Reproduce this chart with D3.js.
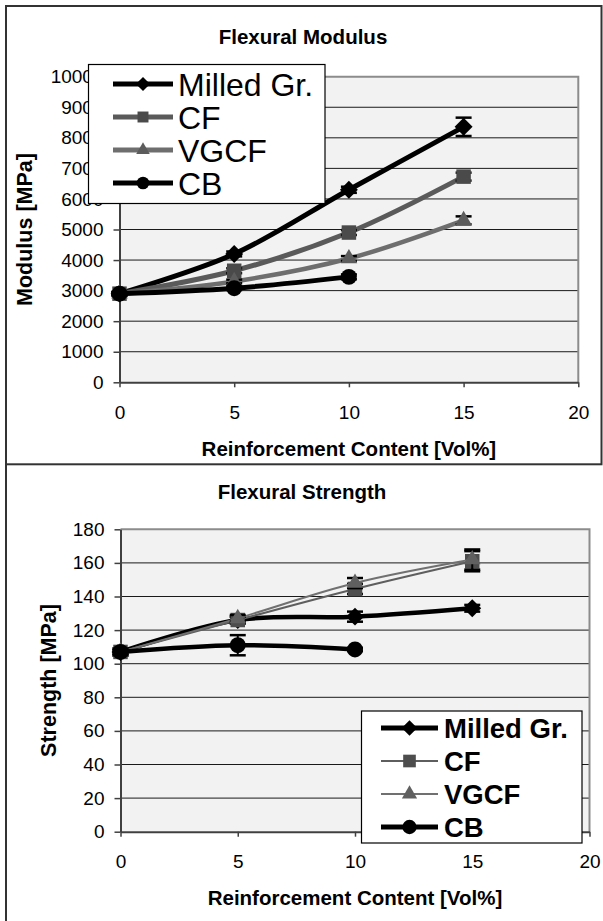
<!doctype html>
<html lang="en">
<head>
<meta charset="utf-8">
<title>Flexural Modulus and Strength</title>
<script src="https://cdn.jsdelivr.net/npm/d3@7"></script>
<style>
  body { margin: 0; background: #fff; }
  svg { display: block; font-family: Arial, "Liberation Sans", sans-serif; }
</style>
</head>
<body>
<script>
// reinforcement content [vol%]
var content = [0, 5, 10, 15];
var xTicks = [0, 5, 10, 15, 20];
var seriesNames = ["Milled Gr.", "CF", "VGCF", "CB"];

// flexural modulus [MPa]
var modTicks = [0, 1000, 2000, 3000, 4000, 5000, 6000, 7000, 8000, 9000, 10000];
var modMilled = [2900, 4200, 6300, 8360];
var modCF = [2900, 3650, 4900, 6730];
var modVGCF = [2900, 3300, 4050, 5300];
var modCB = [2900, 3080, 3450];
var modMilledErr = [60, 80, 100, 300];
var modCFErr = [50, 80, 80, 130];
var modVGCFErr = [50, 60, 80, 130];
var modCBErr = [50, 60, 80];

// flexural strength [MPa]
var strTicks = [0, 20, 40, 60, 80, 100, 120, 140, 160, 180];
var strMilled = [107, 126, 128, 133];
var strCF = [107, 126, 144.5, 161];
var strVGCF = [107, 127, 148, 162];
var strCB = [107, 111, 108.5];
var strMilledErr = [2, 2, 3, 2];
var strCFErr = [1, 2, 3, 6];
var strVGCFErr = [1, 2, 3, 6];
var strCBErr = [2, 6, 1];

var svg = d3.select("body").append("svg").attr("width", 603).attr("height", 921);

// outer frames
svg.append("rect").attr("x", 6).attr("y", 6).attr("width", 595.5).attr("height", 458.3)
    .attr("fill", "none").attr("stroke", "#333").attr("stroke-width", 2);
svg.append("line").attr("x1", 6).attr("x2", 6).attr("y1", 464).attr("y2", 921)
    .attr("stroke", "#333").attr("stroke-width", 2);

function markerPath(type, size) {
    if (type == "diamond") return d3.symbol().type(d3.symbolSquare).size(size)();
    if (type == "square") return d3.symbol().type(d3.symbolSquare).size(size)();
    if (type == "triangle") return d3.symbol().type(d3.symbolTriangle).size(size)();
    return d3.symbol().type(d3.symbolCircle).size(size)();
}
function markerRot(type) { return type == "diamond" ? " rotate(45)" : ""; }

function drawChart(cfg) {
    var x = d3.scaleLinear().domain([0, 20]).range([cfg.left, cfg.right]);
    var y = d3.scaleLinear().domain([0, cfg.yMax]).range([cfg.bottom, cfg.top]);
    var g = svg.append("g");

    g.append("rect").attr("x", cfg.left).attr("y", cfg.top)
        .attr("width", cfg.right - cfg.left).attr("height", cfg.bottom - cfg.top)
        .attr("fill", "#f2f2f2");

    g.append("g").selectAll("line")
        .data(cfg.yTicks.filter(function(v){ return v > 0 && v < cfg.yMax; }))
        .join("line")
        .attr("x1", cfg.left).attr("x2", cfg.right)
        .attr("y1", function(d){ return y(d); }).attr("y2", function(d){ return y(d); })
        .attr("stroke", "#1a1a1a").attr("stroke-width", 1);

    g.append("path")
        .attr("d", "M" + cfg.left + "," + cfg.top + "H" + cfg.right + "V" + cfg.bottom)
        .attr("fill", "none").attr("stroke", "#8c8c8c").attr("stroke-width", 2);

    var ya = g.append("g").attr("transform", "translate(" + cfg.left + ",0)")
        .call(d3.axisLeft(y).tickValues(cfg.yTicks).tickFormat(d3.format("d"))
            .tickSize(6).tickPadding(10).tickSizeOuter(0));
    var xa = g.append("g").attr("transform", "translate(0," + cfg.bottom + ")")
        .call(d3.axisBottom(x).tickValues(xTicks).tickFormat(d3.format("d"))
            .tickSize(5).tickPadding(18).tickSizeOuter(0));
    [ya, xa].forEach(function(a){
        a.attr("font-family", null).attr("font-size", null);
        a.select(".domain").attr("stroke", "#404040").attr("stroke-width", 2);
        a.selectAll(".tick line").attr("stroke", "#404040").attr("stroke-width", 1.5);
        a.selectAll(".tick text").attr("font-size", 19).attr("fill", "#000");
    });

    // titles
    g.append("text").attr("x", cfg.titleX).attr("y", cfg.titleY)
        .attr("text-anchor", "middle").attr("font-size", 20.5).attr("font-weight", "bold")
        .text(cfg.title);
    g.append("text").attr("x", (cfg.left + cfg.right) / 2).attr("y", cfg.xTitleY)
        .attr("text-anchor", "middle").attr("font-size", 20.5).attr("font-weight", "bold")
        .text("Reinforcement Content [Vol%]");
    g.append("text")
        .attr("transform", "translate(" + cfg.yTitleX + "," + (cfg.top + cfg.bottom) / 2 + ") rotate(-90)")
        .attr("text-anchor", "middle").attr("font-size", 21.5).attr("font-weight", "bold")
        .text(cfg.yTitle);

    var line = d3.line()
        .x(function(d){ return x(d[0]); })
        .y(function(d){ return y(d[1]); })
        .curve(d3.curveCatmullRom.alpha(0.5));

    cfg.series.forEach(function(s){
        var pts = s.values.map(function(v, i){ return [content[i], v, s.errs[i]]; });
        var sg = g.append("g");
        sg.append("path").attr("d", line(pts)).attr("fill", "none")
            .attr("stroke", s.color).attr("stroke-width", s.width)
            .attr("stroke-linejoin", "round");
        var eb = sg.append("g").selectAll("g").data(pts).join("g");
        eb.append("line")
            .attr("x1", function(d){ return x(d[0]); }).attr("x2", function(d){ return x(d[0]); })
            .attr("y1", function(d){ return y(d[1] - d[2]); }).attr("y2", function(d){ return y(d[1] + d[2]); })
            .attr("stroke", "#000").attr("stroke-width", 2);
        [-1, 1].forEach(function(sign){
            eb.append("line")
                .attr("x1", function(d){ return x(d[0]) - 8; }).attr("x2", function(d){ return x(d[0]) + 8; })
                .attr("y1", function(d){ return y(d[1] + sign * d[2]); })
                .attr("y2", function(d){ return y(d[1] + sign * d[2]); })
                .attr("stroke", "#000").attr("stroke-width", 2.5);
        });
        sg.append("g").selectAll("path").data(pts).join("path")
            .attr("d", markerPath(s.symbol, s.size))
            .attr("transform", function(d){ return "translate(" + x(d[0]) + "," + y(d[1]) + ")" + markerRot(s.symbol); })
            .attr("fill", s.markerColor);
    });

    // legend
    var L = cfg.legend;
    var lg = g.append("g");
    lg.append("rect").attr("x", L.x).attr("y", L.y).attr("width", L.w).attr("height", L.h)
        .attr("fill", "#fff").attr("stroke", "#000").attr("stroke-width", 1.2);
    cfg.series.forEach(function(s, i){
        var cy = L.row0 + i * L.step;
        lg.append("line").attr("x1", L.lineX0).attr("x2", L.lineX1).attr("y1", cy).attr("y2", cy)
            .attr("stroke", s.color).attr("stroke-width", s.legendWidth);
        lg.append("path").attr("d", markerPath(s.symbol, s.legendSize))
            .attr("transform", "translate(" + (L.lineX0 + L.lineX1) / 2 + "," + cy + ")" + markerRot(s.symbol))
            .attr("fill", s.markerColor);
        lg.append("text").attr("x", L.textX).attr("y", cy + L.fontSize * 0.36)
            .attr("font-size", L.fontSize).attr("font-weight", L.weight)
            .text(seriesNames[i]);
    });
}

drawChart({
    title: "Flexural Modulus", titleX: 303, titleY: 44,
    yTitle: "Modulus [MPa]", yTitleX: 32, xTitleY: 455.5,
    left: 119.5, right: 578.3, top: 76.7, bottom: 382.3,
    yMax: 10000, yTicks: modTicks,
    series: [
        {values: modMilled, errs: modMilledErr, color: "#000", markerColor: "#000", width: 5, symbol: "diamond", size: 160, legendWidth: 5, legendSize: 100},
        {values: modCF, errs: modCFErr, color: "#5a5a5a", markerColor: "#4a4a4a", width: 5, symbol: "square", size: 210, legendWidth: 5, legendSize: 120},
        {values: modVGCF, errs: modVGCFErr, color: "#6e6e6e", markerColor: "#5c5c5c", width: 4.5, symbol: "triangle", size: 120, legendWidth: 5, legendSize: 80},
        {values: modCB, errs: modCBErr, color: "#000", markerColor: "#000", width: 5, symbol: "circle", size: 200, legendWidth: 5, legendSize: 125}
    ],
    legend: {x: 88.5, y: 64.5, w: 236.5, h: 139, row0: 84, step: 33, lineX0: 113, lineX1: 173, textX: 178, fontSize: 32, weight: "normal"}
});

drawChart({
    title: "Flexural Strength", titleX: 302, titleY: 499,
    yTitle: "Strength [MPa]", yTitleX: 56, xTitleY: 905,
    left: 120.5, right: 589.5, top: 529.3, bottom: 831.7,
    yMax: 180, yTicks: strTicks,
    series: [
        {values: strMilled, errs: strMilledErr, color: "#000", markerColor: "#000", width: 4.5, symbol: "diamond", size: 160, legendWidth: 5, legendSize: 120},
        {values: strCF, errs: strCFErr, color: "#5e5e5e", markerColor: "#4d4d4d", width: 2, symbol: "square", size: 210, legendWidth: 2, legendSize: 160},
        {values: strVGCF, errs: strVGCFErr, color: "#707070", markerColor: "#606060", width: 2, symbol: "triangle", size: 120, legendWidth: 2, legendSize: 100},
        {values: strCB, errs: strCBErr, color: "#000", markerColor: "#000", width: 4.5, symbol: "circle", size: 200, legendWidth: 5, legendSize: 160}
    ],
    legend: {x: 361.5, y: 711, w: 220.5, h: 132, row0: 728, step: 33, lineX0: 381, lineX1: 438, textX: 444, fontSize: 27.5, weight: "bold"}
});
</script>
</body>
</html>
